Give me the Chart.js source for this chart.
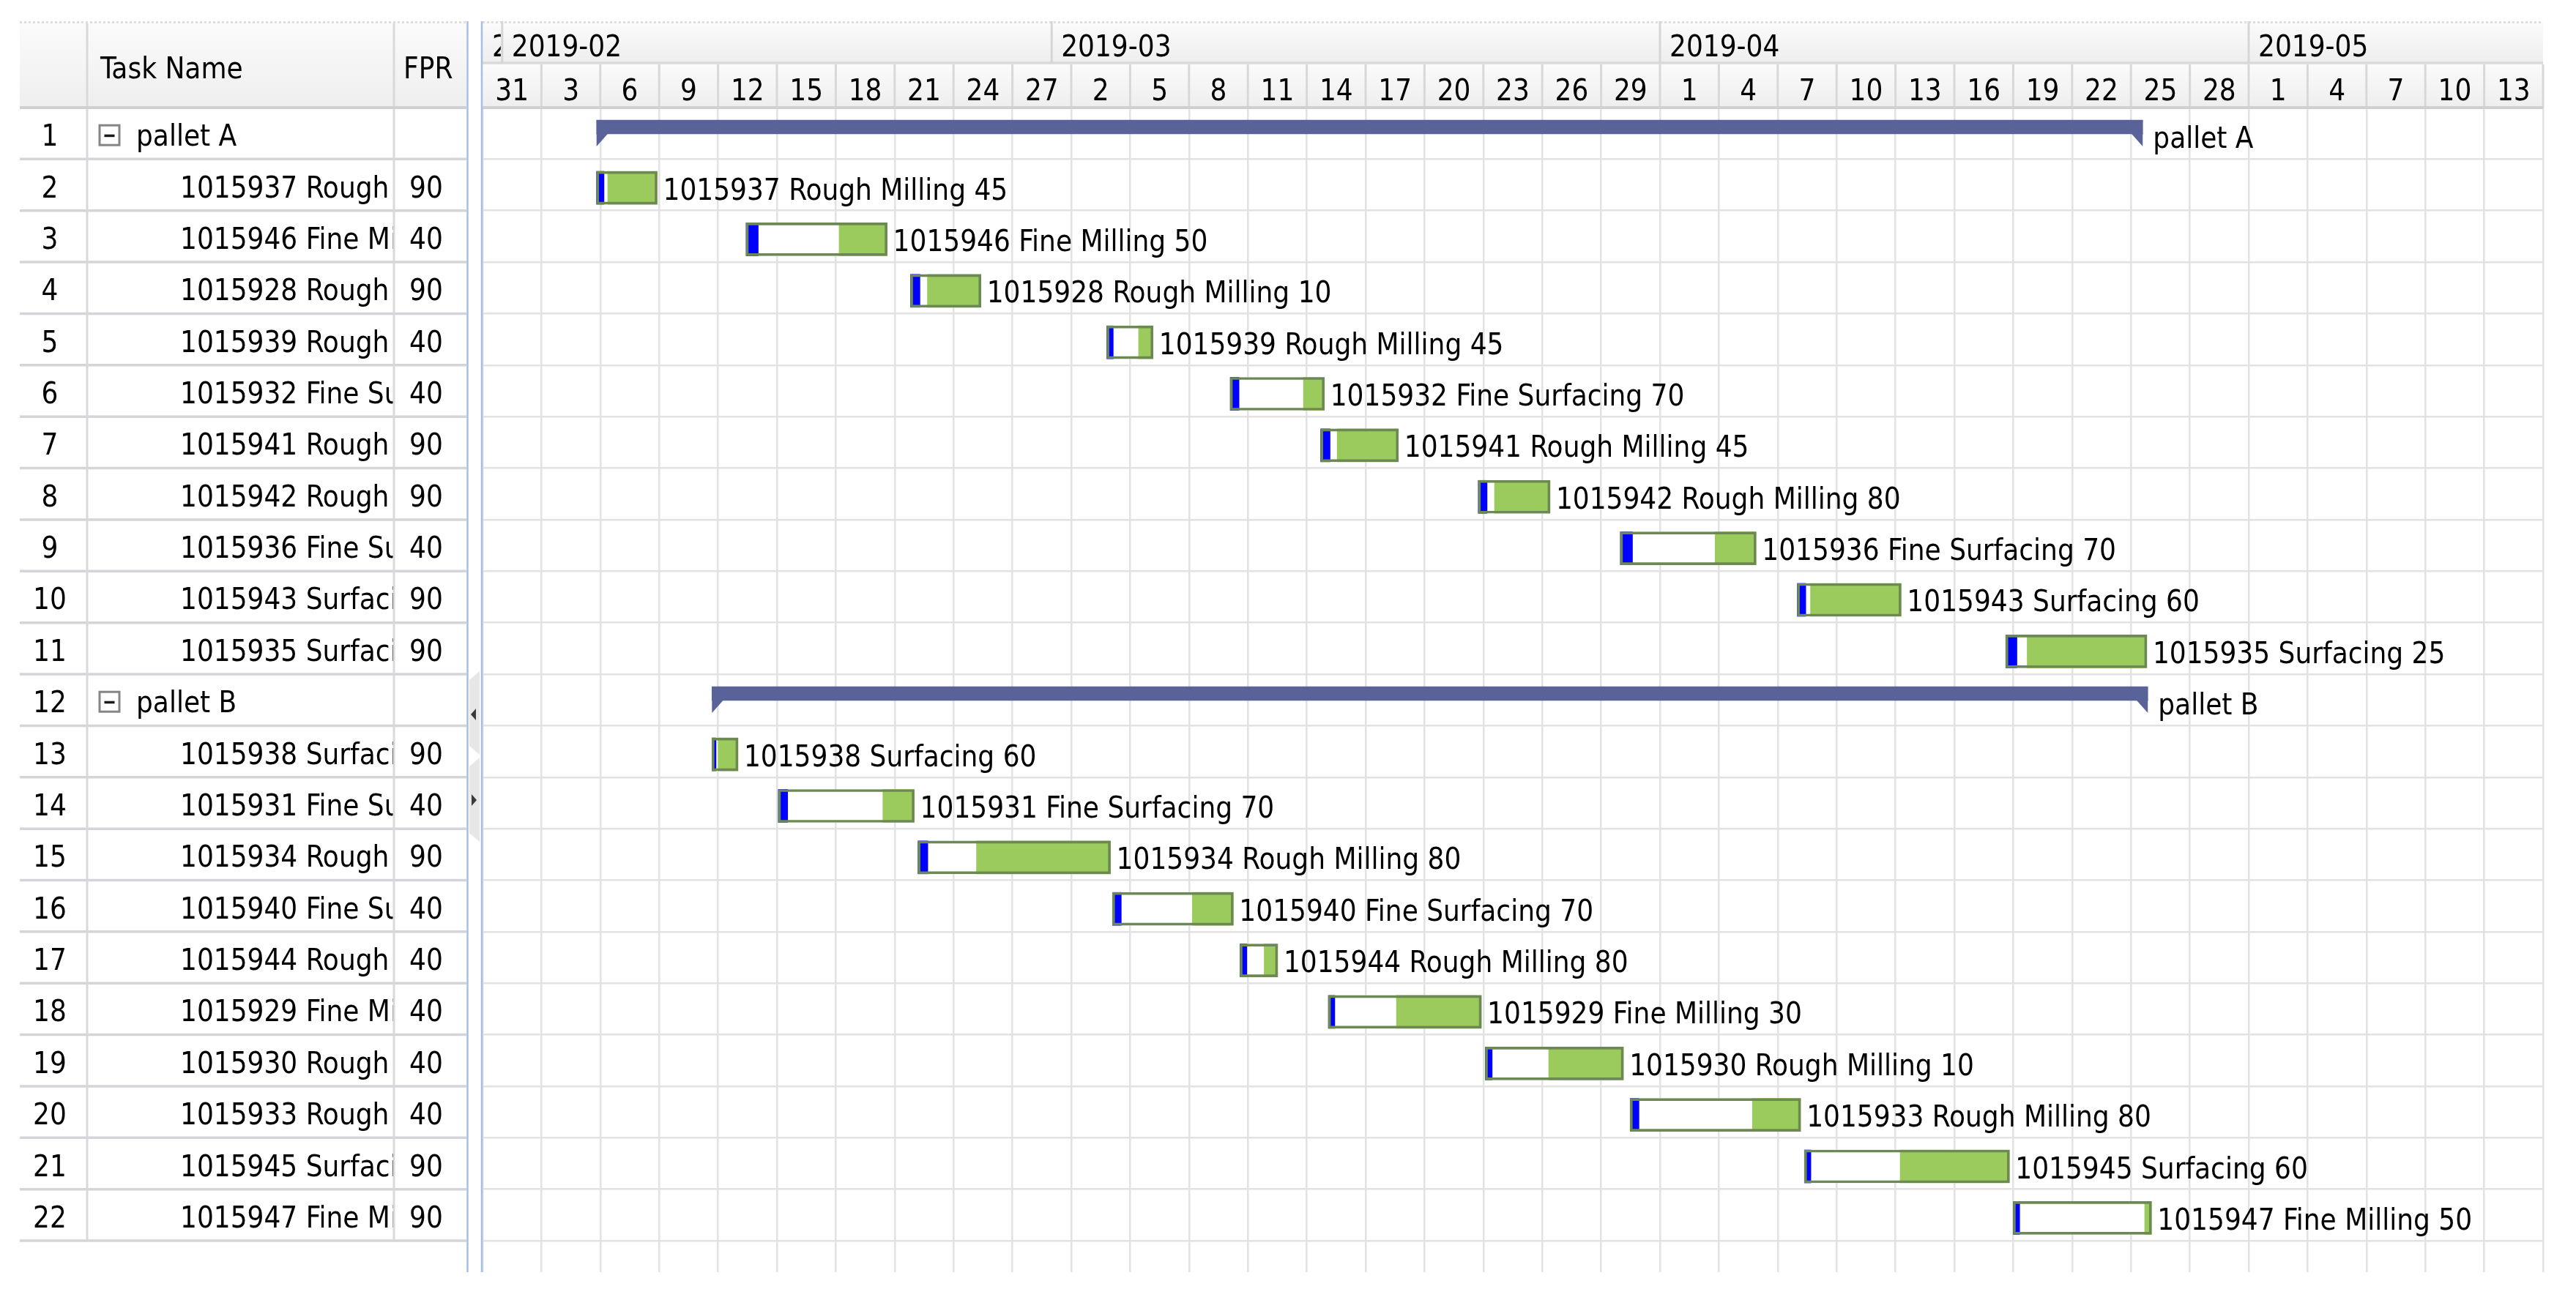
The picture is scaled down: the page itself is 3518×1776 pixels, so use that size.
<!DOCTYPE html>
<html>
<head>
<meta charset="utf-8">
<script src="https://cdn.jsdelivr.net/npm/chart.js@4/dist/chart.umd.min.js"></script>
<style>
html,body{margin:0;padding:0;background:#fff;overflow:hidden}
#wrap{width:3518px;height:1776px;position:relative}
</style>
</head>
<body>
<div id="wrap"><canvas id="c"></canvas></div>
<script>
// ---------------- data ----------------
const TASK_NAMES = [
  'pallet A',
  '1015937 Rough Milling', '1015946 Fine Milling', '1015928 Rough Milling', '1015939 Rough Milling',
  '1015932 Fine Surfacing', '1015941 Rough Milling', '1015942 Rough Milling', '1015936 Fine Surfacing',
  '1015943 Surfacing', '1015935 Surfacing',
  'pallet B',
  '1015938 Surfacing', '1015931 Fine Surfacing', '1015934 Rough Milling', '1015940 Fine Surfacing',
  '1015944 Rough Milling', '1015929 Fine Milling', '1015930 Rough Milling', '1015933 Rough Milling',
  '1015945 Surfacing', '1015947 Fine Milling'
];
const GROUP_ROWS = [1, 12];
const FPR = [null, 90, 40, 90, 40, 40, 90, 90, 40, 90, 90, null, 90, 40, 90, 40, 40, 40, 40, 40, 90, 90];
const BAR_NUMBERS = [null, 45, 50, 10, 45, 70, 45, 80, 70, 60, 25, null, 60, 70, 80, 70, 80, 30, 10, 80, 60, 50];
// days after 2019-01-31 00:00
const START_DAY = [5.81, 5.81, 13.43, 21.81, 31.81, 38.10, 42.71, 50.74, 57.98, 67.00, 77.62,
                   11.69, 11.69, 15.07, 22.19, 32.10, 38.60, 43.10, 51.10, 58.48, 67.36, 78.00];
const PROGRESS_END_DAY = [null, 6.19, 14.05, 22.29, 32.14, 38.55, 43.19, 51.19, 58.60, 67.43, 78.19,
                          null, 11.90, 15.55, 22.69, 32.55, 38.95, 43.43, 51.45, 58.93, 67.69, 78.33];
const PROCESS_START_DAY = [null, 6.38, 18.17, 22.67, 33.43, 41.83, 43.55, 51.57, 62.81, 67.67, 78.71,
                           null, 12.00, 20.40, 25.17, 36.17, 39.83, 46.57, 54.33, 64.71, 72.24, 84.70];
const END_DAY = [84.60, 8.90, 20.62, 25.40, 34.17, 42.90, 46.67, 54.40, 64.90, 72.29, 84.81,
                 84.86, 13.02, 22.00, 32.00, 38.26, 40.52, 50.90, 58.14, 67.17, 77.81, 85.05];
const DAY_TICK_LABELS = ['31','3','6','9','12','15','18','21','24','27',
                         '2','5','8','11','14','17','20','23','26','29',
                         '1','4','7','10','13','16','19','22','25','28',
                         '1','4','7','10','13'];
const MONTH_LABELS = ['2019-01', '2019-02', '2019-03', '2019-04', '2019-05'];
const MONTH_START_DAY = [-30, 1, 29, 60, 90];
const HEADER_TITLES = ['Task Name', 'FPR'];

// ---------------- style / layout ----------------
const FONT = '"DejaVu Sans Condensed", "DejaVu Sans", sans-serif';
const F40 = '40px ' + FONT;
const GRID = '#e2e2e2';
const OUTLINE = '#6d8953';
const GREEN = '#9ccb5d';
const BLUE = '#0000ff';
const SUMMARY = '#5a6399';
const L = { tableLeft: 27, col1: 119, col2: 538, tableRight: 637, split1: 638.5, split2: 658,
            headTop: 29, monthBottom: 86, headBottom: 147 };
const ROWS = TASK_NAMES.length;
const TAIL = 0.61;          // empty space below the last row (in rows)
const TASK_SHIFT = 0.057;   // task bars sit slightly below row centre
const SUM_SHIFT = 0.124;    // summary bars sit in the upper part of the row

const isGroup = i => GROUP_ROWS.includes(i + 1);
const taskIdx = TASK_NAMES.map((_, i) => i).filter(i => !isGroup(i));
const groupIdx = TASK_NAMES.map((_, i) => i).filter(i => isGroup(i));

const spanData = taskIdx.map(i => ({ y: i + 1, x: [START_DAY[i], END_DAY[i]] }));
const progData = taskIdx.map(i => ({ y: i + 1, x: [START_DAY[i], PROGRESS_END_DAY[i]] }));
const procData = taskIdx.map(i => ({ y: i + 1, x: [PROCESS_START_DAY[i], END_DAY[i]] }));
const sumData = groupIdx.map(i => ({ y: i + 1, x: [START_DAY[i], END_DAY[i]] }));

function hline(ctx, x0, x1, y, color, w) {
  ctx.strokeStyle = color; ctx.lineWidth = w;
  ctx.beginPath(); ctx.moveTo(x0, y); ctx.lineTo(x1, y); ctx.stroke();
}
function vline(ctx, x, y0, y1, color, w) {
  ctx.strokeStyle = color; ctx.lineWidth = w;
  ctx.beginPath(); ctx.moveTo(x, y0); ctx.lineTo(x, y1); ctx.stroke();
}
function headGrad(ctx, y0, y1) {
  const g = ctx.createLinearGradient(0, y0, 0, y1);
  g.addColorStop(0, '#fbfbfb'); g.addColorStop(1, '#eeeeee');
  return g;
}

const ganttPlugin = {
  id: 'gantt',
  beforeDraw(chart) {
    const { ctx, width, height } = chart;
    const x = chart.scales.x;
    ctx.save();
    ctx.fillStyle = '#fff'; ctx.fillRect(0, 0, width, height);
    // table header
    ctx.fillStyle = headGrad(ctx, L.headTop, L.headBottom);
    ctx.fillRect(L.tableLeft, L.headTop, L.tableRight - L.tableLeft, L.headBottom - L.headTop);
    // gantt header rows
    ctx.fillStyle = headGrad(ctx, L.headTop, L.monthBottom);
    ctx.fillRect(x.left, L.headTop, x.right - x.left, L.monthBottom - L.headTop);
    ctx.fillStyle = headGrad(ctx, L.monthBottom, L.headBottom);
    ctx.fillRect(x.left, L.monthBottom, x.right - x.left, L.headBottom - L.monthBottom);
    ctx.restore();
  },
  afterDatasetsDraw(chart) {
    const { ctx } = chart;
    const y = chart.scales.y;
    ctx.save();
    // summary end hooks + labels
    const sm = chart.getDatasetMeta(4);
    sm.data.forEach((el, k) => {
      const p = el.getProps(['x', 'base', 'y', 'height'], true);
      const yb = p.y + p.height / 2;
      ctx.fillStyle = SUMMARY;
      ctx.beginPath(); ctx.moveTo(p.base, yb - 1); ctx.lineTo(p.base + 16, yb - 1); ctx.lineTo(p.base, yb + 17); ctx.closePath(); ctx.fill();
      ctx.beginPath(); ctx.moveTo(p.x, yb - 1); ctx.lineTo(p.x - 16, yb - 1); ctx.lineTo(p.x, yb + 17); ctx.closePath(); ctx.fill();
      const i = groupIdx[k];
      ctx.fillStyle = '#000'; ctx.font = F40; ctx.textAlign = 'left'; ctx.textBaseline = 'alphabetic';
      ctx.fillText(TASK_NAMES[i], p.x + 14, y.getPixelForValue(i + 1) + 20);
    });
    // task labels
    const om = chart.getDatasetMeta(0);
    om.data.forEach((el, k) => {
      const p = el.getProps(['x'], true);
      const i = taskIdx[k];
      ctx.fillStyle = '#000'; ctx.font = F40; ctx.textAlign = 'left'; ctx.textBaseline = 'alphabetic';
      ctx.fillText(TASK_NAMES[i] + ' ' + BAR_NUMBERS[i], p.x + 8, y.getPixelForValue(i + 1) + 20);
    });
    ctx.restore();
  },
  afterDraw(chart) {
    const { ctx } = chart;
    const x = chart.scales.x, y = chart.scales.y;
    const bodyBottom = y.getPixelForValue(ROWS + 0.5);
    ctx.save();
    ctx.font = F40; ctx.fillStyle = '#000'; ctx.textBaseline = 'alphabetic';

    // ---- gantt header ----
    // dotted top border
    ctx.setLineDash([3, 3]);
    hline(ctx, L.tableLeft, L.tableRight, L.headTop + 1.5, '#dedede', 3);
    hline(ctx, x.left, x.right, L.headTop + 1.5, '#dedede', 3);
    ctx.setLineDash([]);
    hline(ctx, x.left, x.right, L.monthBottom, '#d9d9d9', 3.5);
    // month separators + labels
    MONTH_LABELS.forEach((lab, m) => {
      const s = Math.max(MONTH_START_DAY[m], x.min);
      const e = Math.min(m + 1 < MONTH_LABELS.length ? MONTH_START_DAY[m + 1] : x.max, x.max);
      if (e <= s) return;
      const p0 = x.getPixelForValue(s), p1 = x.getPixelForValue(e);
      if (MONTH_START_DAY[m] > x.min) vline(ctx, p0, L.headTop, L.monthBottom, '#d6d6d6', 3);
      ctx.save();
      ctx.beginPath(); ctx.rect(p0 + 2, L.headTop, p1 - p0 - 4, L.monthBottom - L.headTop); ctx.clip();
      ctx.textAlign = 'left';
      ctx.fillText(lab, p0 + 13, 76.5);
      ctx.restore();
    });
    // day separators + labels
    DAY_TICK_LABELS.forEach((lab, k) => {
      const p0 = x.getPixelForValue(k * 3);
      if (k > 0) vline(ctx, p0, L.monthBottom + 2, L.headBottom, '#d8d8d8', 3);
      ctx.textAlign = 'center';
      ctx.fillText(lab, x.getPixelForValue(k * 3 + 1.5), 136.5);
    });
    vline(ctx, x.right, L.monthBottom + 2, L.headBottom, '#d8d8d8', 3);
    hline(ctx, x.left, x.right, L.headBottom, '#cfcfd4', 4);

    // ---- table ----
    // row lines
    for (let k = 1; k <= ROWS; k++) {
      hline(ctx, L.tableLeft, L.tableRight, y.getPixelForValue(k + 0.5), '#d4d4d9', 3.5);
    }
    // column lines
    vline(ctx, L.col1, L.headTop + 3, bodyBottom, '#d9d9d9', 3);
    vline(ctx, L.col2, L.headTop + 3, bodyBottom, '#d9d9d9', 3);
    hline(ctx, L.tableLeft, L.tableRight, L.headBottom, '#cfcfd4', 4);
    // header titles
    ctx.textAlign = 'left';
    ctx.fillText(HEADER_TITLES[0], 137, 106.5);
    ctx.fillText(HEADER_TITLES[1], 551, 106.5);
    // rows
    TASK_NAMES.forEach((name, i) => {
      const yc = y.getPixelForValue(i + 1);
      const yb = yc + 17;
      ctx.fillStyle = '#000';
      ctx.textAlign = 'center';
      ctx.fillText(String(i + 1), 68, yb);
      ctx.textAlign = 'left';
      if (isGroup(i)) {
        // expander box
        ctx.fillStyle = '#fff';
        ctx.fillRect(136, yc - 11, 27, 27);
        ctx.strokeStyle = '#858585'; ctx.lineWidth = 3;
        ctx.strokeRect(136, yc - 11, 27, 27);
        ctx.fillStyle = '#1a1a1a';
        ctx.fillRect(142.5, yc + 1.5, 14, 3.5);
        ctx.fillStyle = '#000';
        ctx.fillText(name, 186, yb);
      } else {
        ctx.save();
        ctx.beginPath(); ctx.rect(L.col1 + 2, yc - 35, L.col2 - L.col1 - 3.5, 70); ctx.clip();
        ctx.fillText(name, 246, yb);
        ctx.restore();
        ctx.fillText(String(FPR[i]), 559, yb);
      }
    });

    // ---- splitter ----
    vline(ctx, L.split1, L.headTop, chart.chartArea.bottom, '#a4bfe9', 2.5);
    vline(ctx, L.split2, L.headTop, chart.chartArea.bottom, '#a4bfe9', 2.5);
    const tabs = [[917, 1031], [1035, 1150]];
    tabs.forEach(([t0, t1]) => {
      ctx.fillStyle = '#e7e7e7';
      ctx.beginPath();
      ctx.moveTo(641, t0 + 12); ctx.lineTo(655, t0); ctx.lineTo(655, t1); ctx.lineTo(641, t1 - 12);
      ctx.closePath(); ctx.fill();
    });
    ctx.fillStyle = '#3a3a3a';
    ctx.beginPath(); ctx.moveTo(643, 976); ctx.lineTo(650, 968); ctx.lineTo(650, 984); ctx.closePath(); ctx.fill();
    ctx.beginPath(); ctx.moveTo(651, 1093); ctx.lineTo(644, 1085); ctx.lineTo(644, 1101); ctx.closePath(); ctx.fill();
    ctx.restore();
  }
};

const yRange = (shift) => ({ min: 0.5 + shift, max: ROWS + 0.5 + TAIL + shift });

new Chart(document.getElementById('c'), {
  type: 'bar',
  data: {
    datasets: [
      { label: 'Task outline', data: spanData, yAxisID: 'yTask', xAxisID: 'x', grouped: false, order: 0,
        barThickness: 45, backgroundColor: 'rgba(0,0,0,0)', borderColor: OUTLINE, borderWidth: 3, borderSkipped: false },
      { label: 'Progress', data: progData, yAxisID: 'yTask', xAxisID: 'x', grouped: false, order: 1,
        barThickness: 45, backgroundColor: BLUE, borderWidth: 0 },
      { label: 'Processing', data: procData, yAxisID: 'yTask', xAxisID: 'x', grouped: false, order: 2,
        barThickness: 45, backgroundColor: GREEN, borderWidth: 0 },
      { label: 'Task span', data: spanData, yAxisID: 'yTask', xAxisID: 'x', grouped: false, order: 3,
        barThickness: 45, backgroundColor: '#ffffff', borderWidth: 0 },
      { label: 'Pallet', data: sumData, yAxisID: 'ySum', xAxisID: 'x', grouped: false, order: 4,
        barThickness: 19, backgroundColor: SUMMARY, borderWidth: 0 }
    ]
  },
  options: {
    indexAxis: 'y',
    responsive: true,
    maintainAspectRatio: false,
    animation: false,
    devicePixelRatio: 1,
    events: [],
    layout: { padding: { left: 659, top: 147, right: 45, bottom: 38 } },
    plugins: { legend: { display: false }, tooltip: { enabled: false } },
    scales: {
      x: {
        type: 'linear', axis: 'x', position: 'bottom', min: 0, max: DAY_TICK_LABELS.length * 3, offset: false,
        afterBuildTicks: s => { s.ticks = DAY_TICK_LABELS.map((_, k) => ({ value: k * 3 })).concat([{ value: DAY_TICK_LABELS.length * 3 }]); },
        ticks: { display: false },
        grid: { color: GRID, lineWidth: 2.5, drawTicks: false, offset: false },
        border: { display: false }
      },
      y: {
        type: 'linear', axis: 'y', position: 'left', reverse: true, offset: false, ...yRange(0),
        afterBuildTicks: s => { s.ticks = []; for (let k = 0; k <= ROWS; k++) s.ticks.push({ value: k + 0.5 }); },
        ticks: { display: false },
        grid: { color: GRID, lineWidth: 2.5, drawTicks: false, offset: false },
        border: { display: false }
      },
      yTask: { type: 'linear', axis: 'y', position: 'left', reverse: true, offset: false, display: false, ...yRange(-TASK_SHIFT) },
      ySum: { type: 'linear', axis: 'y', position: 'left', reverse: true, offset: false, display: false, ...yRange(SUM_SHIFT) }
    }
  },
  plugins: [ganttPlugin]
});
</script>
</body>
</html>
